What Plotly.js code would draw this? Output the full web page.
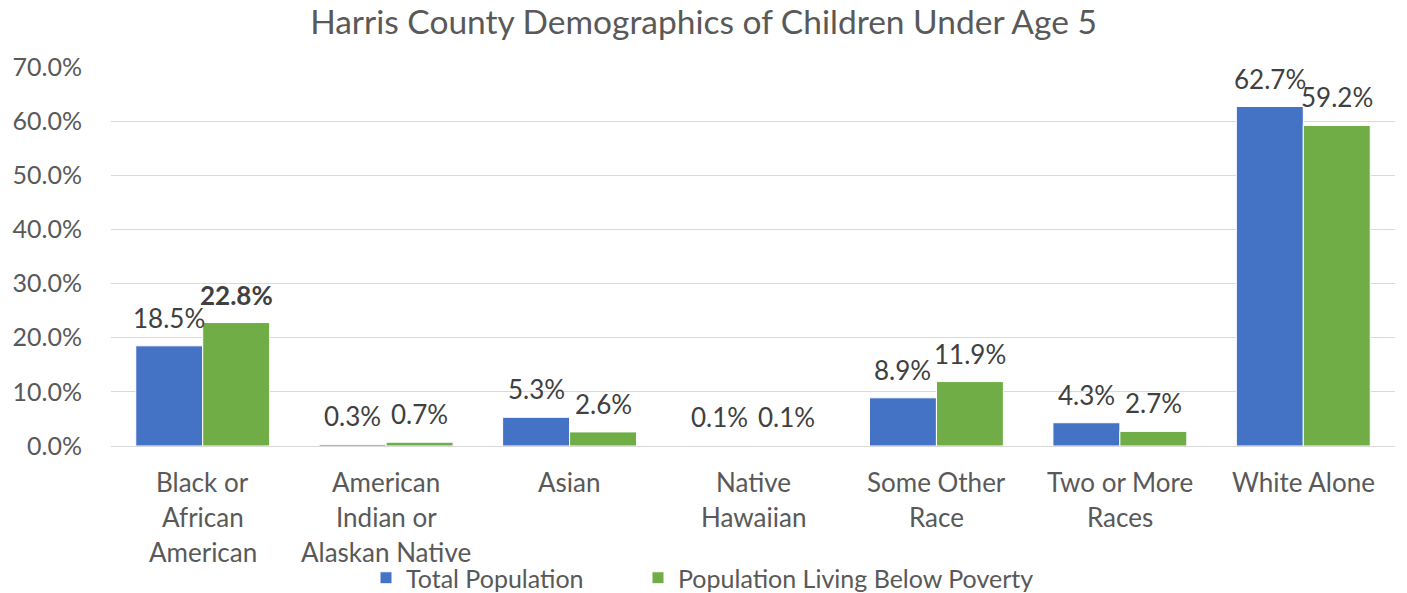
<!DOCTYPE html>
<html>
<head>
<meta charset="utf-8">
<script src="https://cdn.plot.ly/plotly-3.0.1.min.js"></script>
<style>html,body{margin:0;padding:0;background:#fff;}#chart{width:1407px;height:593px;}</style>
</head>
<body>
<div id="chart"></div>
<script>
const categories = ["Black or<br>African<br>American", "American<br>Indian or<br>Alaskan Native", "Asian", "Native<br>Hawaiian", "Some Other<br>Race", "Two or More<br>Races", "White Alone"];
const totalPopulation = [18.5, 0.3, 5.3, 0.1, 8.9, 4.3, 62.7];
const belowPoverty = [22.8, 0.7, 2.6, 0.1, 11.9, 2.7, 59.2];
const seriesNames = ["Total Population", "Population Living Below Poverty"];
const boldLabels = [true, false, false, false, false, false, false];

const FONT = "Lato, sans-serif";
const LBL = 26;
const fmt = v => v.toFixed(1) + "%";

const traces = [
  {
    type: "bar", name: seriesNames[0], x: categories, y: totalPopulation, legend: "legend",
    marker: {color: "#4472C4", line: {color: "#ffffff", width: 1}}, hoverinfo: "y"
  },
  {
    type: "bar", name: seriesNames[1], x: categories, y: belowPoverty, legend: "legend2",
    marker: {color: "#70AD47", line: {color: "#ffffff", width: 1}}, hoverinfo: "y"
  }
];

const annotations = [];
// data labels above each bar
const series = [totalPopulation, belowPoverty];
series.forEach((vals, s) => {
  vals.forEach((v, i) => {
    const bold = s === 1 && boldLabels[i];
    annotations.push({
      x: categories[i], xref: "x", y: v, yref: "y", xanchor: "center", yanchor: "middle",
      xshift: s === 0 ? -33.5 : 33.5, yshift: 28,
      text: bold ? "<b>" + fmt(v) + "</b>" : fmt(v), showarrow: false,
      font: {family: FONT, size: LBL, color: "#404040"}
    });
  });
});
// category labels drawn line by line so the line spacing matches
categories.forEach(c => {
  c.split("<br>").forEach((line, k) => {
    annotations.push({
      x: c, xref: "x", y: 0, yref: "paper", yanchor: "middle", xanchor: "center",
      yshift: -36 - 35 * k, text: line, showarrow: false,
      font: {family: FONT, size: LBL, color: "#595959"}
    });
  });
});

const legendBase = {orientation: "h", xref: "container", yref: "container", y: (593 - 578) / 593, yanchor: "middle", xanchor: "left",
  font: {family: FONT, size: 25, color: "#595959"}, itemwidth: 30, bgcolor: "rgba(0,0,0,0)"};

const layout = {
  width: 1407, height: 593,
  margin: {l: 111, r: 12, t: 67, b: 147},
  paper_bgcolor: "#fff", plot_bgcolor: "#fff",
  font: {family: FONT, color: "#595959"},
  title: {text: "Harris County Demographics of Children Under Age 5", font: {family: FONT, size: 33.5, color: "#595959"}, x: 0.5, xanchor: "center", y: 0.963, yanchor: "middle"},
  barmode: "group", bargap: 0.27, bargroupgap: 0.0,
  xaxis: {type: "category", showticklabels: false, showgrid: false, showline: false, ticks: "", automargin: false},
  yaxis: {range: [0, 70], dtick: 10, tickformat: ".1f", ticksuffix: "%", tickfont: {family: FONT, size: 25, color: "#595959"}, ticklabelstandoff: 28, gridcolor: "#D9D9D9", gridwidth: 1, zeroline: true, zerolinecolor: "#D9D9D9", zerolinewidth: 1, showline: false, ticks: "", automargin: false},
  legend: Object.assign({}, legendBase, {x: 366 / 1407}),
  legend2: Object.assign({}, legendBase, {x: 638 / 1407}),
  annotations: annotations,
  showlegend: true
};

Plotly.newPlot("chart", traces, layout, {displayModeBar: false, staticPlot: true});
</script>
</body>
</html>
